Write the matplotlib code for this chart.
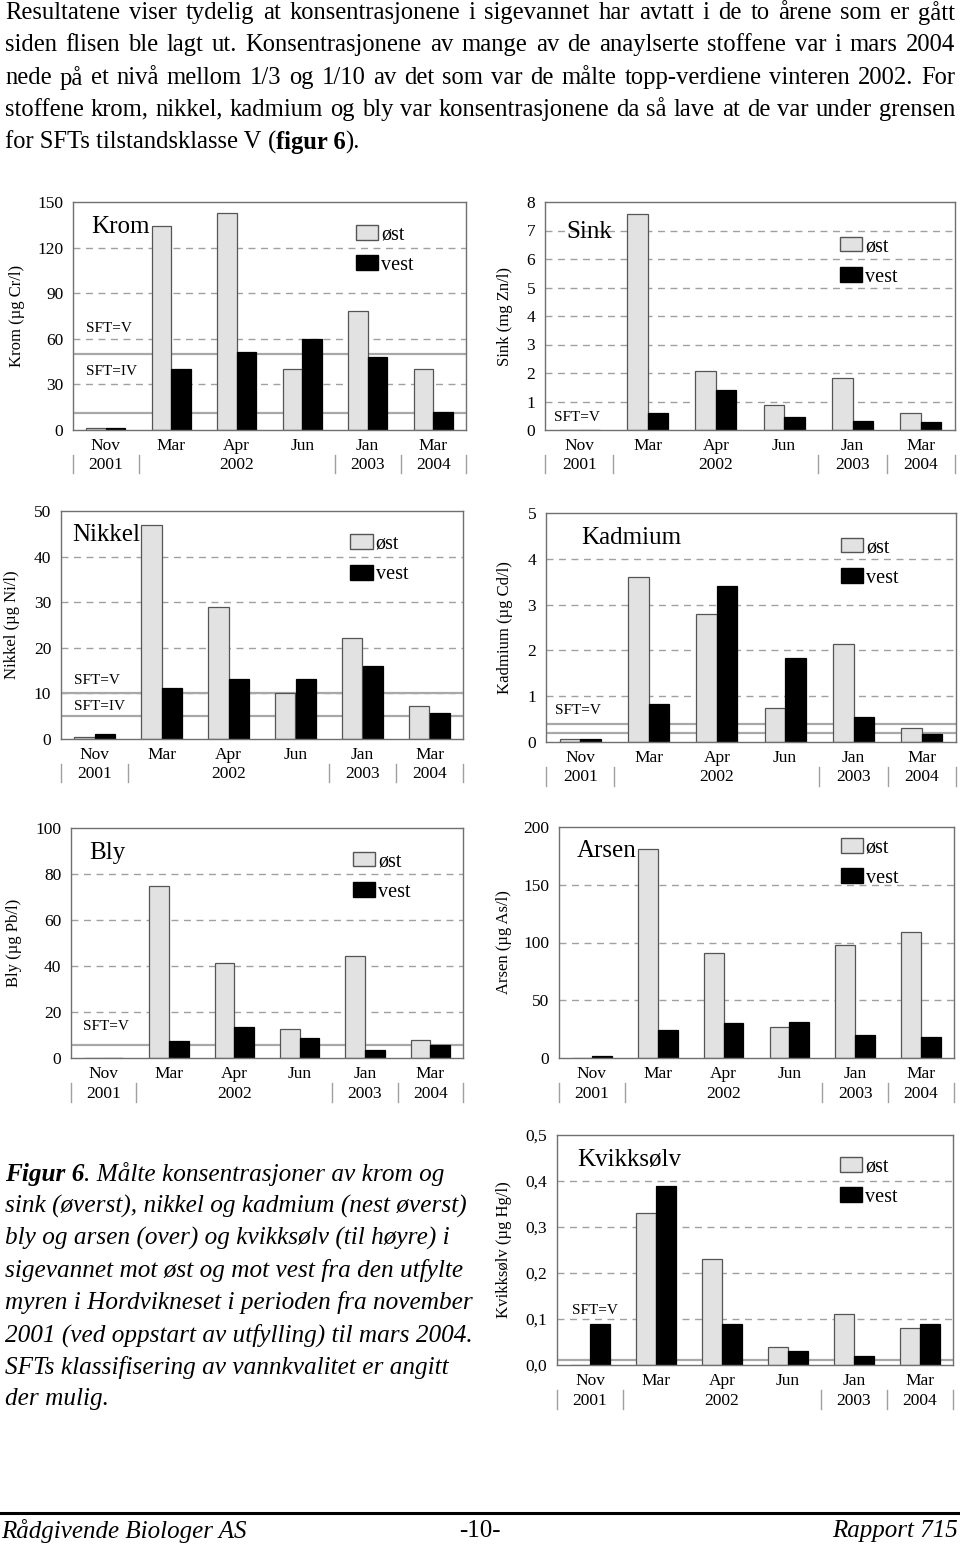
import numpy as np
import matplotlib
matplotlib.use('Agg')
import matplotlib.pyplot as plt
from matplotlib.patches import Patch
from matplotlib.lines import Line2D
from matplotlib.ticker import FuncFormatter

plt.rcParams['font.family'] = ['Liberation Serif', 'DejaVu Serif']

W, H = 960, 1547

months = ['Nov', 'Mar', 'Apr', 'Jun', 'Jan', 'Mar']
years = ['2001', '', '2002', '', '2003', '2004']
year_breaks = [0, 1, 4, 5, 6]

krom_ost = [1, 134, 143, 40, 78, 40]
krom_vest = [1.5, 40, 51, 60, 48, 12]
sink_ost = [0, 7.58, 2.07, 0.87, 1.84, 0.59]
sink_vest = [0, 0.61, 1.41, 0.45, 0.30, 0.29]
nikkel_ost = [0.5, 47, 29, 10.1, 22.1, 7.2]
nikkel_vest = [1.2, 11.1, 13.1, 13.1, 16.1, 5.7]
kadmium_ost = [0.06, 3.6, 2.8, 0.75, 2.13, 0.3]
kadmium_vest = [0.06, 0.84, 3.4, 1.83, 0.54, 0.18]
bly_ost = [0, 75, 41.3, 12.4, 44.2, 7.7]
bly_vest = [0, 7.4, 13.4, 8.6, 3.3, 5.8]
arsen_ost = [0, 180.6, 90.6, 27.2, 97.5, 109.4]
arsen_vest = [1.4, 24.3, 30.4, 31.3, 20.3, 18.5]
kvikk_ost = [0, 0.33, 0.23, 0.04, 0.11, 0.08]
kvikk_vest = [0.09, 0.39, 0.09, 0.03, 0.02, 0.09]

# SFT limits (grenseverdier)
krom_sft = [50, 11]
sink_sft = []
nikkel_sft = [10, 5]
kadmium_sft = [0.4, 0.2]
bly_sft = [5.8]
arsen_sft = []
kvikk_sft = [0.01]

para = [
    "Resultatene viser tydelig at konsentrasjonene i sigevannet har avtatt i de to årene som er gått",
    "siden flisen ble lagt ut. Konsentrasjonene av mange av de anaylserte stoffene var i mars 2004",
    "nede på et nivå mellom 1/3 og 1/10 av det som var de målte topp-verdiene vinteren 2002. For",
    "stoffene krom, nikkel, kadmium og bly var konsentrasjonene da så lave at de var under grensen",
]
caption = [
    "sink (øverst), nikkel og kadmium (nest øverst)",
    "bly og arsen (over) og kvikksølv (til høyre) i",
    "sigevannet mot øst og mot vest fra den utfylte",
    "myren i Hordvikneset i perioden fra november",
    "2001 (ved oppstart av utfylling) til mars 2004.",
    "SFTs klassifisering av vannkvalitet er angitt",
    "der mulig.",
]

fig = plt.figure(figsize=(W / 100, H / 100), dpi=100)
r = fig.canvas.get_renderer()


def px(x, y):
    return x / W, 1 - y / H


def tw(t):
    return t.get_window_extent(r).width


def chart(rect, ost, vest, ymax, step, sft, name, ylab, ylab_x,
          title_xy, leg_xy, sft_labels, fmt=None):
    L, T, R, B = rect
    ax = fig.add_axes([L / W, 1 - B / H, (R - L) / W, (B - T) / H])
    x = np.arange(len(ost))
    w = 0.3
    ticks = np.arange(0, ymax + step / 2, step)
    for t in ticks[1:-1]:
        ax.axhline(t, color='#a0a0a0', lw=1, ls=(0, (5, 4)), zorder=0)
    for s in sft:
        ax.axhline(s, color='#a8a8a8', lw=1.6, zorder=1)
    ax.bar(x - w / 2, ost, w, color='#e2e2e2', edgecolor='#555555', lw=0.9, zorder=2)
    ax.bar(x + w / 2, vest, w, color='black', edgecolor='black', lw=0.9, zorder=2)
    ax.set_xlim(-0.5, len(ost) - 0.5)
    ax.set_ylim(0, ymax)
    ax.set_yticks(ticks)
    if fmt:
        ax.yaxis.set_major_formatter(FuncFormatter(fmt))
    ax.set_xticks([])
    ax.tick_params(axis='y', length=0, pad=7, labelsize=12.5)
    for sp in ax.spines.values():
        sp.set_color('#707070')
        sp.set_linewidth(1)
    tr = ax.get_xaxis_transform()
    for i, (m, yv) in enumerate(zip(months, years)):
        ax.text(i, -0.07, m, transform=tr, ha='center', va='center', fontsize=12.5)
        if yv:
            ax.text(i, -0.155, yv, transform=tr, ha='center', va='center', fontsize=12.5)
    for b in year_breaks:
        ax.plot([b - 0.5, b - 0.5], [-0.11, -0.19], transform=tr, color='#a0a0a0',
                lw=1, clip_on=False)
    ax.text(title_xy[0], title_xy[1], name, transform=ax.transAxes, fontsize=18,
            ha='left', va='center')
    for lab, lx, ly in sft_labels:
        ax.text(lx, ly, lab, transform=ax.transAxes, fontsize=11, ha='left', va='center')
    ax.set_ylabel(ylab, fontsize=12, va='center')
    ax.yaxis.set_label_coords((ylab_x - L) / (R - L), 0.5)
    ax.legend(handles=[Patch(facecolor='#e2e2e2', edgecolor='#555555', label='øst'),
                       Patch(facecolor='black', edgecolor='black', label='vest')],
              loc='upper left', bbox_to_anchor=leg_xy, frameon=False,
              fontsize=14.5, handlelength=1.1, handleheight=0.75, handletextpad=0.15,
              labelspacing=0.55, borderaxespad=0, borderpad=0)
    return ax


comma1 = lambda v, p: ('%.1f' % v).replace('.', ',')

chart((73, 202, 466, 430), krom_ost, krom_vest, 150, 30, krom_sft, 'Krom',
      'Krom (µg Cr/l)', 17, (0.047, 0.89), (0.72, 0.90),
      [('SFT=V', 0.034, 0.445), ('SFT=IV', 0.034, 0.255)])
chart((545, 202, 955, 430), sink_ost, sink_vest, 8, 1, sink_sft, 'Sink',
      'Sink (mg Zn/l)', 505, (0.051, 0.87), (0.72, 0.848),
      [('SFT=V', 0.022, 0.054)])
chart((61, 511, 463, 739), nikkel_ost, nikkel_vest, 50, 10, nikkel_sft, 'Nikkel',
      'Nikkel (µg Ni/l)', 12, (0.029, 0.895), (0.72, 0.897),
      [('SFT=V', 0.032, 0.255), ('SFT=IV', 0.032, 0.143)])
chart((546, 513, 956, 742), kadmium_ost, kadmium_vest, 5, 1, kadmium_sft, 'Kadmium',
      'Kadmium (µg Cd/l)', 505, (0.087, 0.89), (0.72, 0.892),
      [('SFT=V', 0.022, 0.136)])
chart((71, 828, 463, 1058), bly_ost, bly_vest, 100, 20, bly_sft, 'Bly',
      'Bly (µg Pb/l)', 14, (0.047, 0.89), (0.72, 0.897),
      [('SFT=V', 0.03, 0.135)])
chart((559, 827, 954, 1058), arsen_ost, arsen_vest, 200, 50, arsen_sft, 'Arsen',
      'Arsen (µg As/l)', 504, (0.046, 0.897), (0.713, 0.953),
      [])
chart((557, 1135, 953, 1365), kvikk_ost, kvikk_vest, 0.5, 0.1, kvikk_sft, 'Kvikksølv',
      'Kvikksølv (µg Hg/l)', 504, (0.052, 0.89), (0.714, 0.905),
      [('SFT=V', 0.038, 0.235)], fmt=comma1)


# top paragraph, justified
fs = 17.7
x0, x1 = 5, 955
for i, line in enumerate(para):
    y = 13 + 32.3 * i
    words = line.split(' ')
    ts = [fig.text(0, 0, wd, fontsize=fs, va='center') for wd in words]
    ws = [tw(t) for t in ts]
    gap = (x1 - x0 - sum(ws)) / (len(words) - 1)
    xx = x0
    for t, wd in zip(ts, ws):
        t.set_position(px(xx, y))
        xx += wd + gap

sp_t = fig.text(0, 0, 'a a', fontsize=fs)
sp_a = fig.text(0, 0, 'aa', fontsize=fs)
space = tw(sp_t) - tw(sp_a)
sp_t.remove()
sp_a.remove()

y = 13 + 32.3 * 4
xx = x0
for s, wt, gap_after in [('for SFTs tilstandsklasse V', 'normal', True), ('(', 'normal', False),
                         ('figur 6', 'bold', False), (').', 'normal', False)]:
    t = fig.text(*px(xx, y), s, fontsize=fs, fontweight=wt, va='center')
    xx += tw(t) + (space if gap_after else 0)

# caption
cfs = 18.2
cy0 = 1174
t = fig.text(*px(5, cy0), 'Figur 6', fontsize=cfs, fontweight='bold', style='italic', va='center')
fig.text(*px(5 + tw(t), cy0), '. Målte konsentrasjoner av krom og', fontsize=cfs,
         style='italic', va='center')
for i, line in enumerate(caption):
    fig.text(*px(5, cy0 + 32.2 * (i + 1)), line, fontsize=cfs, style='italic', va='center')

# footer
fig.add_artist(Line2D([0, 1], [1 - 1513 / H] * 2, color='black', lw=2.2))
fig.text(*px(1, 1531), 'Rådgivende Biologer AS', fontsize=18, style='italic', va='center')
fig.text(*px(480, 1531), '-10-', fontsize=18, va='center', ha='center')
fig.text(*px(958, 1531), 'Rapport 715', fontsize=18, style='italic', va='center', ha='right')

fig.savefig('out.png', dpi=100)
